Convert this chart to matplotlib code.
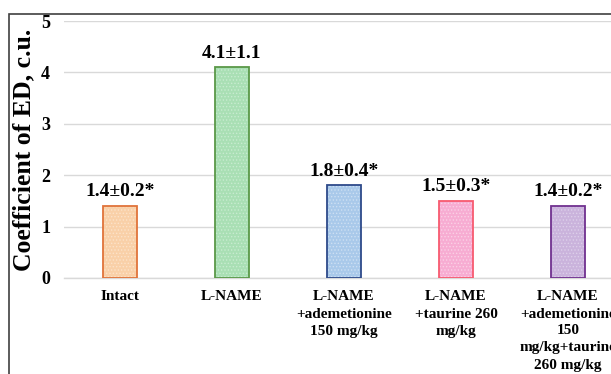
import matplotlib.pyplot as plt
import matplotlib.patches as mpatches
import numpy as np

plt.rcParams['font.family'] = ['Liberation Serif', 'DejaVu Serif']
plt.rcParams['font.weight'] = 'bold'
plt.rcParams['hatch.linewidth'] = 0.6

# data
groups = ['Intact', 'L-NAME', 'L-NAME\n+ademetionine\n150 mg/kg',
          'L-NAME\n+taurine 260\nmg/kg',
          'L-NAME\n+ademetionine\n150\nmg/kg+taurine\n260 mg/kg']
means = [1.4, 4.1, 1.8, 1.5, 1.4]
value_labels = ['1.4±0.2*', '4.1±1.1', '1.8±0.4*', '1.5±0.3*', '1.4±0.2*']
face_colors = ['#f9d0a8', '#a9dfb4', '#a9c9ea', '#f7acd2', '#cab3dc']
dot_colors = ['#fce3c9', '#c8ecd0', '#cde0f3', '#fbd0e6', '#ddcfea']
edge_colors = ['#e0733a', '#5a9848', '#2e4a8a', '#f75a6f', '#70308f']

fig = plt.figure(figsize=(6.11, 3.74), dpi=100)
# chart border (cropped on the right and bottom)
fig.patches.append(mpatches.Rectangle((9 / 611, -0.1), 1.2, 1 - 14 / 374 + 0.1,
                                      transform=fig.transFigure, fill=False,
                                      edgecolor='#404040', lw=1.2))

ax = fig.add_axes([64 / 611, (374 - 278) / 374, 560 / 611, 257 / 374])
x = np.arange(len(groups))

ax.bar(x, means, width=0.31, color=face_colors, edgecolor=dot_colors,
       hatch='.....', lw=0, zorder=2)
ax.bar(x, means, width=0.31, fill=False, edgecolor=edge_colors, lw=1.3, zorder=3)

for xi, m, lab in zip(x, means, value_labels):
    ax.annotate(lab, (xi, m), xytext=(0, 4), textcoords='offset points',
                ha='center', va='bottom', fontsize=14, fontweight='bold')

ax.set_xlim(-0.5, 4.5)
ax.set_ylim(0, 5)
ax.set_yticks([0, 1, 2, 3, 4, 5])
ax.yaxis.grid(True, color='#d9d9d9', lw=1)
ax.set_axisbelow(True)
for s in ['top', 'right', 'left']:
    ax.spines[s].set_visible(False)
ax.spines['bottom'].set_color('#d9d9d9')
ax.spines['bottom'].set_linewidth(1)
ax.tick_params(axis='y', length=0, labelsize=13, pad=10)
ax.tick_params(axis='x', length=0, labelsize=11, pad=9)
ax.set_xticks(x)
ax.set_xticklabels(groups, fontsize=11, fontweight='bold', linespacing=1.4)
for t in ax.get_yticklabels():
    t.set_fontweight('bold')
ax.set_ylabel('Coefficient of ED, c.u.', fontsize=18.5, fontweight='bold')
ax.yaxis.set_label_coords(-0.052, 0.5)

fig.savefig('out.png', dpi=100)
